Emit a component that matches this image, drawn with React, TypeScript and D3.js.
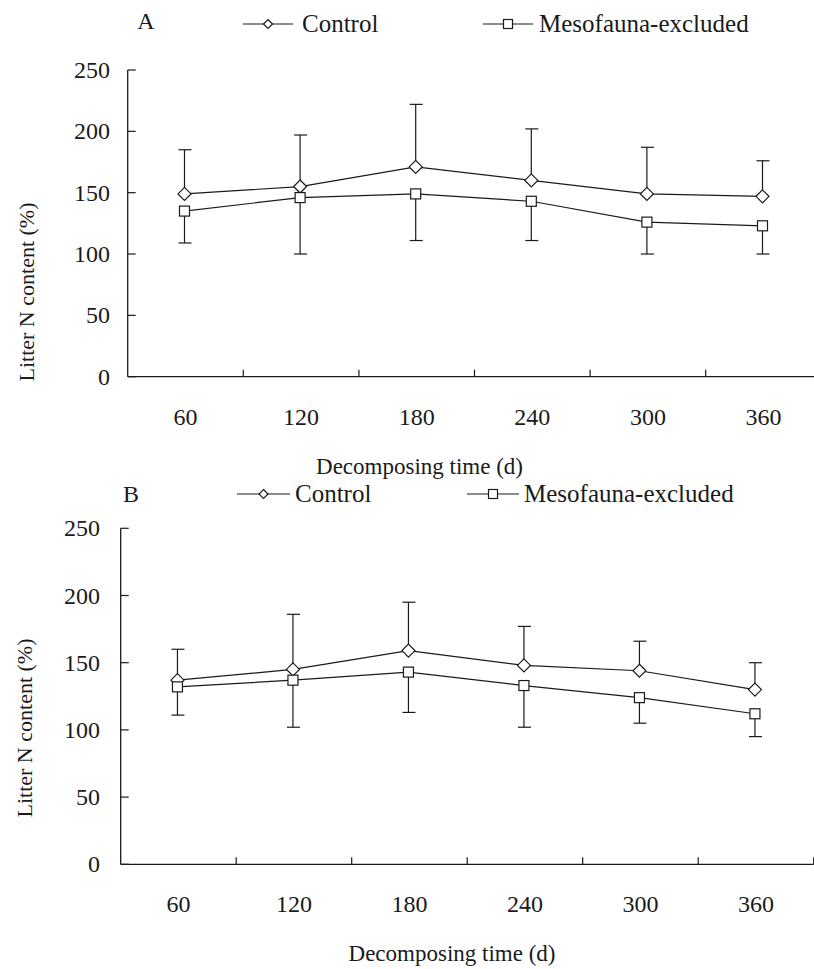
import React from 'react';
import * as d3 from 'd3';

const days = ['60', '120', '180', '240', '300', '360'];
const yTicks = [0, 50, 100, 150, 200, 250];
const seriesNames = ['Control', 'Mesofauna-excluded'];
const xTitle = 'Decomposing time (d)';
const yTitle = 'Litter N content (%)';

const aControl = [149, 155, 171, 160, 149, 147];
const aControlErr = [36, 42, 51, 42, 38, 29];
const aMeso = [135, 146, 149, 143, 126, 123];
const aMesoErr = [26, 46, 38, 32, 26, 23];

const bControl = [137, 145, 159, 148, 144, 130];
const bControlErr = [23, 41, 36, 29, 22, 20];
const bMeso = [132, 137, 143, 133, 124, 112];
const bMesoErr = [21, 35, 30, 31, 19, 17];

const FONT = 'Liberation Serif, Times New Roman, Times, serif';
const INK = '#1a1a1a';

type Layout = {
  letter: string;
  letterX: number;
  letterY: number;
  axisX: number;
  right: number;
  top: number;
  bottom: number;
  tickLabelRight: number;
  xLabelBase: number;
  titleX: number;
  titleBase: number;
  yTitleX: number;
  yTitleY: number;
  legendBase: number;
  ctrlLine: [number, number];
  ctrlText: number;
  mesoLine: [number, number];
  mesoText: number;
};

const layoutA: Layout = {
  letter: 'A', letterX: 146, letterY: 29,
  axisX: 127.7, right: 821.3, top: 70, bottom: 376.7,
  tickLabelRight: 110, xLabelBase: 425, titleX: 419.5, titleBase: 474,
  yTitleX: 34, yTitleY: 292,
  legendBase: 32, ctrlLine: [243, 293], ctrlText: 302, mesoLine: [483, 533], mesoText: 539,
};

const layoutB: Layout = {
  letter: 'B', letterX: 131, letterY: 502,
  axisX: 120.7, right: 813.7, top: 528.3, bottom: 864.3,
  tickLabelRight: 100, xLabelBase: 912, titleX: 452, titleBase: 961,
  yTitleX: 32, yTitleY: 728,
  legendBase: 502, ctrlLine: [237, 290], ctrlText: 295, mesoLine: [467, 519], mesoText: 524,
};

function Diamond({ x, y, r }: { x: number; y: number; r: number }) {
  return (
    <path
      d={`M${x},${y - r}L${x + r},${y}L${x},${y + r}L${x - r},${y}Z`}
      fill="#fff"
      stroke={INK}
      strokeWidth={1.2}
    />
  );
}

function Square({ x, y, s }: { x: number; y: number; s: number }) {
  return <rect x={x - s / 2} y={y - s / 2} width={s} height={s} fill="#fff" stroke={INK} strokeWidth={1.2} />;
}

function Panel({
  L, control, controlErr, meso, mesoErr,
}: { L: Layout; control: number[]; controlErr: number[]; meso: number[]; mesoErr: number[] }) {
  const x = d3.scaleBand<string>().domain(days).range([L.axisX, L.right]).paddingInner(0).paddingOuter(0);
  const y = d3.scaleLinear().domain([0, 250]).range([L.bottom, L.top]);
  const cx = (d: string) => (x(d) as number) + x.bandwidth() / 2 - 1;
  const line = d3.line<number>().x((_, i) => cx(days[i])).y((v) => y(v));
  const bw = x.bandwidth();
  const legendY = L.legendBase - 8;

  return (
    <g style={{ fontFamily: FONT }} fill={INK}>
      {/* letter + legend */}
      <text x={L.letterX} y={L.letterY} fontSize={24} textAnchor="middle">{L.letter}</text>
      <line x1={L.ctrlLine[0]} x2={L.ctrlLine[1]} y1={legendY} y2={legendY} stroke={INK} strokeWidth={1.2} />
      <Diamond x={(L.ctrlLine[0] + L.ctrlLine[1]) / 2} y={legendY} r={4.5} />
      <text x={L.ctrlText} y={L.legendBase} fontSize={25}>{seriesNames[0]}</text>
      <line x1={L.mesoLine[0]} x2={L.mesoLine[1]} y1={legendY} y2={legendY} stroke={INK} strokeWidth={1.2} />
      <Square x={(L.mesoLine[0] + L.mesoLine[1]) / 2} y={legendY} s={9} />
      <text x={L.mesoText} y={L.legendBase} fontSize={25}>{seriesNames[1]}</text>

      {/* y axis */}
      <line x1={L.axisX} x2={L.axisX} y1={y(250)} y2={y(0)} stroke={INK} strokeWidth={1.3} />
      {yTicks.map((t) => (
        <g key={t}>
          <line x1={L.axisX} x2={L.axisX + 8} y1={y(t)} y2={y(t)} stroke={INK} strokeWidth={1.2} />
          <text x={L.tickLabelRight} y={y(t) + 8} fontSize={24} textAnchor="end">{t}</text>
        </g>
      ))}
      <text
        transform={`translate(${L.yTitleX},${L.yTitleY}) rotate(-90)`}
        fontSize={22}
        textAnchor="middle"
      >
        {yTitle}
      </text>

      {/* x axis */}
      <line x1={L.axisX} x2={L.right} y1={y(0)} y2={y(0)} stroke={INK} strokeWidth={1.3} />
      {days.map((d, i) => (
        <g key={d}>
          {i > 0 && (
            <line x1={x(d) as number} x2={x(d) as number} y1={y(0)} y2={y(0) - 7} stroke={INK} strokeWidth={1.2} />
          )}
          <text x={(x(d) as number) + bw / 2} y={L.xLabelBase} fontSize={24} textAnchor="middle">{d}</text>
        </g>
      ))}
      <line x1={L.right} x2={L.right} y1={y(0)} y2={y(0) - 7} stroke={INK} strokeWidth={1.2} />
      <text x={L.titleX} y={L.titleBase} fontSize={23} textAnchor="middle">{xTitle}</text>

      {/* error bars */}
      {days.map((d, i) => {
        const px = cx(d);
        const cTop = y(control[i] + controlErr[i]);
        const mBot = y(meso[i] - mesoErr[i]);
        return (
          <g key={'e' + d} stroke={INK} strokeWidth={1.2}>
            <line x1={px} x2={px} y1={y(control[i])} y2={cTop} />
            <line x1={px - 6} x2={px + 7} y1={cTop} y2={cTop} />
            <line x1={px} x2={px} y1={y(meso[i])} y2={mBot} />
            <line x1={px - 6} x2={px + 7} y1={mBot} y2={mBot} />
          </g>
        );
      })}

      {/* lines */}
      <path d={line(control) || ''} fill="none" stroke={INK} strokeWidth={1.2} />
      <path d={line(meso) || ''} fill="none" stroke={INK} strokeWidth={1.2} />

      {/* markers */}
      {control.map((v, i) => (
        <Diamond key={'c' + i} x={cx(days[i])} y={y(v)} r={6.5} />
      ))}
      {meso.map((v, i) => (
        <Square key={'m' + i} x={cx(days[i])} y={y(v)} s={10} />
      ))}
    </g>
  );
}

export default function App() {
  return (
    <svg
      width={814}
      height={969}
      viewBox="0 0 814 969"
      style={{ position: 'absolute', left: 0, top: 0, background: '#fff' }}
    >
      <rect width={814} height={969} fill="#fff" />
      <Panel L={layoutA} control={aControl} controlErr={aControlErr} meso={aMeso} mesoErr={aMesoErr} />
      <Panel L={layoutB} control={bControl} controlErr={bControlErr} meso={bMeso} mesoErr={bMesoErr} />
    </svg>
  );
}
